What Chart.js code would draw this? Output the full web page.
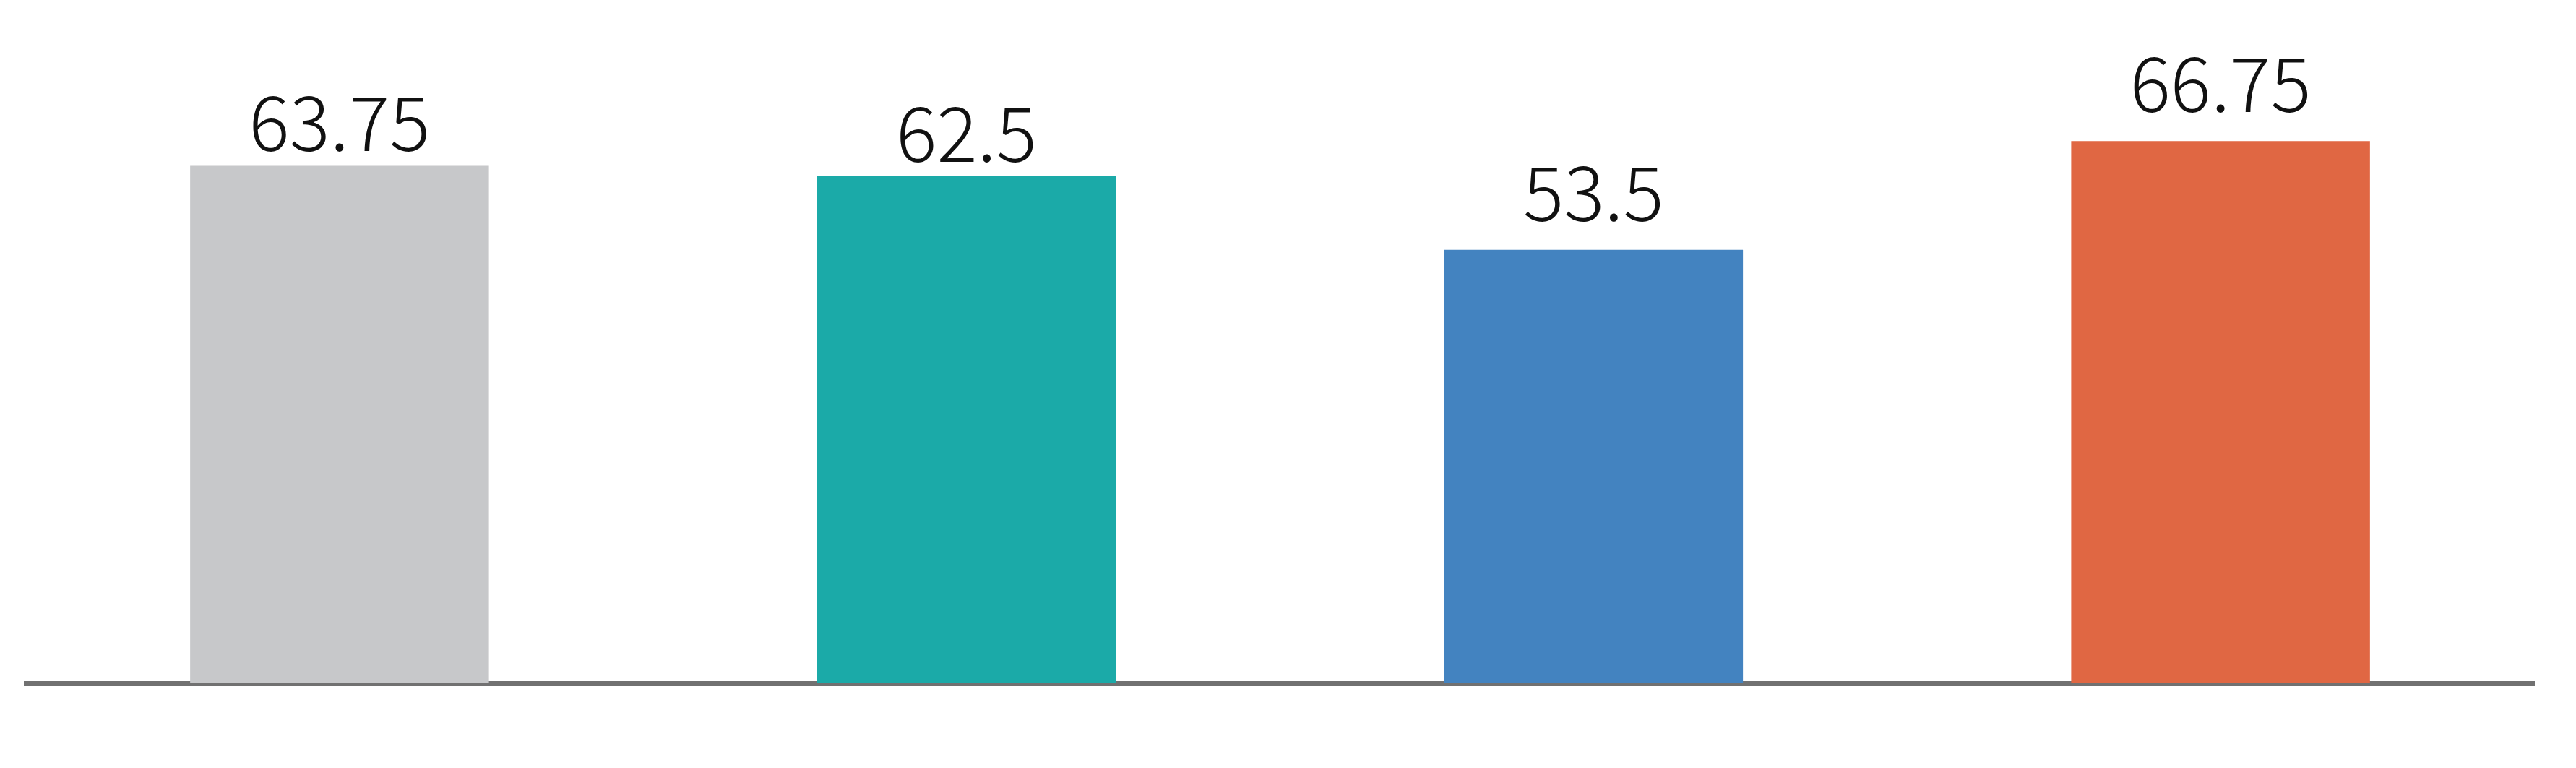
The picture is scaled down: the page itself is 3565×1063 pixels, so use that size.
<!DOCTYPE html>
<html>
<head>
<meta charset="utf-8">
<style>
  html, body { margin: 0; padding: 0; background: #ffffff; }
  #wrap { width: 3565px; height: 1063px; position: relative; }
</style>
<script src="https://cdn.jsdelivr.net/npm/chart.js@4.4.1/dist/chart.umd.min.js"></script>
</head>
<body>
<div id="wrap"><canvas id="c"></canvas></div>
<script>
const categories = ["A", "B", "C", "D"];
const values = [63.75, 62.5, 53.5, 66.75];
const valueLabels = ["63.75", "62.5", "53.5", "66.75"];
const barColors = ["#C7C8CA", "#1BAAA8", "#4383C0", "#E06743"];
const labelGaps = [20, 20, 40, 40];

const labelPlugin = {
  id: 'valueLabels',
  afterDatasetsDraw(chart) {
    const ctx = chart.ctx;
    const meta = chart.getDatasetMeta(0);
    ctx.save();
    ctx.fillStyle = '#111111';
    ctx.font = '300 105px "Noto Sans CJK JP", "Source Sans Pro", Lato, sans-serif';
    ctx.textAlign = 'center';
    ctx.textBaseline = 'alphabetic';
    meta.data.forEach((bar, i) => {
      ctx.fillText(valueLabels[i], bar.x, bar.y - labelGaps[i]);
    });
    ctx.restore();
  }
};

new Chart(document.getElementById('c'), {
  type: 'bar',
  data: {
    labels: categories,
    datasets: [{
      data: values,
      backgroundColor: barColors,
      borderWidth: 0,
      barPercentage: 0.4765,
      categoryPercentage: 1.0
    }]
  },
  options: {
    responsive: true,
    maintainAspectRatio: false,
    animation: false,
    devicePixelRatio: 1,
    layout: { padding: { left: 36, right: 58, top: 45, bottom: 117 } },
    plugins: { legend: { display: false }, tooltip: { enabled: false } },
    scales: {
      x: {
        display: true,
        grid: { display: false, drawTicks: false },
        ticks: { display: false },
        border: { display: true, color: '#717171', width: 7 }
      },
      y: {
        display: false,
        min: 0.6,
        max: 80,
        grid: { display: false }
      }
    }
  },
  plugins: [labelPlugin]
});
</script>
</body>
</html>
